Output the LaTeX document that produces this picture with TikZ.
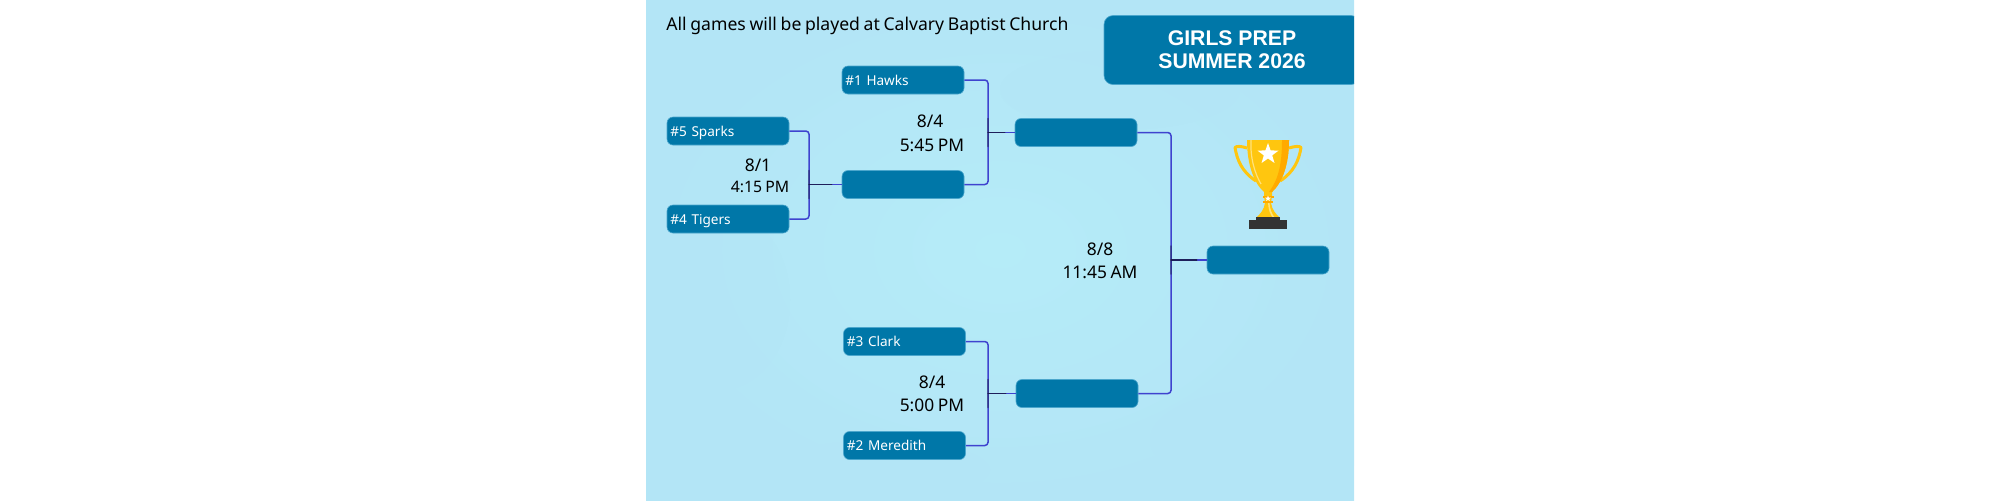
\documentclass[tikz,border=0pt]{standalone}
\usepackage{fontspec}
\setmainfont{Noto Sans}[WordSpace=0.8]
\newfontfamily\headfont{Liberation Sans}[BoldFont={Liberation Sans Bold}]
\usetikzlibrary{calc}
\definecolor{teamblue}{HTML}{0077A8}
\definecolor{edgeblue}{HTML}{4BA6CC}
\definecolor{wireblue}{HTML}{3F43CF}
\definecolor{wiredark}{HTML}{16163F}
\definecolor{panelmid}{HTML}{B5ECF8}
\definecolor{paneledge}{HTML}{B3E5F6}
\definecolor{gold}{HTML}{FFC60F}
\definecolor{goldlight}{HTML}{FFE27A}
\definecolor{golddark}{HTML}{FFAA00}
\definecolor{basegrey}{HTML}{333333}
\tikzset{
  x=0.5pt, y=-0.5pt,
  slot/.style={draw=edgeblue, line width=0.3pt, fill=teamblue, rounded corners=3pt,
    minimum width=61pt, minimum height=14pt, text width=57.6pt, inner xsep=1.7pt,
    inner ysep=0pt, text height=5.4pt, text depth=0pt, align=left, text=white,
    font=\fontsize{6.8}{8}\selectfont},
  wire/.style={draw=wireblue, line width=0.75pt, rounded corners=1.6pt},
  wirecore/.style={draw=wiredark, line width=0.75pt, line cap=round},
  when/.style={text=black, font=\fontsize{8.7}{10}\selectfont, inner sep=0pt},
  whensmall/.style={text=black, font=\fontsize{7.9}{10}\selectfont, inner sep=0pt},
}
\begin{document}
\begin{tikzpicture}
\useasboundingbox (0,0) rectangle (2000,500);
\begin{scope}
  \clip (646,0) rectangle (1354,500);
  \shade[inner color=panelmid, outer color=paneledge] (646,0) rectangle (1354,500);
  % faint mottling of the backdrop
  \fill[paneledge, opacity=.35] (1120,90) ellipse (120 and 40);
  \fill[paneledge, opacity=.30] (1260,440) ellipse (110 and 50);
  \fill[paneledge, opacity=.30] (720,300) ellipse (70 and 90);
  \fill[paneledge, opacity=.30] (880,470) ellipse (110 and 30);
  % heading tab, running off the right edge
  \node[draw=edgeblue, line width=0.3pt, fill=teamblue, rounded corners=4.5pt,
        minimum width=128pt, minimum height=34.5pt, inner sep=0pt, align=center,
        text=white, font=\headfont\bfseries\fontsize{10.6}{11.6}\selectfont]
        (title) at (1232,50) {GIRLS PREP\\SUMMER 2026};
\end{scope}

\node[anchor=west, inner sep=0pt, text=black, font=\fontsize{8.8}{10}\selectfont]
     (venue) at (666,26) {All games will be played at Calvary Baptist Church};

% bracket slots
\node[slot] (sparks) at (728,131) {\#5 Sparks};
\node[slot] (tigers) at (728,219) {\#4 Tigers};
\node[slot] (hawks)  at (903,80)  {\#1 Hawks};
\node[slot] (qwin)   at (903,184.5) {};
\node[slot] (semia)  at (1076,132.5) {};
\node[slot] (clark)  at (904.5,341.5) {\#3 Clark};
\node[slot] (mered)  at (904.5,445.5) {\#2 Meredith};
\node[slot] (semib)  at (1077,393.5) {};
\node[slot] (final)  at (1268,260) {};

% junctions of the bracket lines
\coordinate (jq) at (809,184.5);
\coordinate (ja) at (988,132.5);
\coordinate (jb) at (988,393.5);
\coordinate (jf) at (1171,260);

\foreach \up/\down/\joint/\next in {sparks/tigers/jq/qwin, hawks/qwin/ja/semia,
                                    clark/mered/jb/semib, semia/semib/jf/final}{
  \draw[wire] (\up.east) -| (\joint) |- (\down.east);
  \draw[wire] (\joint) -- (\next.west);
  \draw[wirecore, opacity=.8, shorten >=5pt, shorten <=0pt] (\joint) -- (\next.west);
  \draw[wirecore, opacity=.4] ($(\joint)+(0,-14)$) -- ($(\joint)+(0,14)$);
}

% game times
\node[when] (d1) at (758,165) {8/1};
\node[whensmall] (t1) at (760,187) {4:15 PM};
\node[when] (d2) at (930,121) {8/4};
\node[when] (t2) at (932,145) {5:45 PM};
\node[when] (d3) at (1100,249) {8/8};
\node[when] (t3) at (1100,272) {11:45 AM};
\node[when] (d4) at (932,382) {8/4};
\node[when] (t4) at (932,405) {5:00 PM};

% trophy
\begin{scope}[shift={(1268,0)}]
  % handles
  \foreach \s in {-1,1}{
    \draw[gold, line width=1.5pt, line join=round, xscale=\s]
      (21,148) .. controls (27,146) and (32,146) .. (33,147.5)
      .. controls (31,160) and (26,172) .. (12,181);
  }
  % stem and foot
  \fill[gold] (-4,190) -- (4,190) -- (4,196) -- (3,203)
     .. controls (4,210) and (8,214) .. (12,218) -- (-12,218)
     .. controls (-8,214) and (-4,210) .. (-3,203) -- (-4,196) -- cycle;
  \fill[goldlight] (1.5,203) .. controls (2,210) and (4,214) .. (7,218) -- (5,218)
     .. controls (2,214) and (0.5,210) .. (0,203) -- cycle;
  \fill[golddark] (-5.5,195.5) rectangle (5.5,198);
  \fill[golddark] (-5,201) rectangle (5,202.5);
  % bowl
  \fill[gold] (-21,140) -- (21,140) .. controls (21,165) and (14,183) .. (4,192)
     -- (-4,192) .. controls (-14,183) and (-21,165) .. (-21,140) -- cycle;
  \fill[golddark] (14,140) -- (21,140) .. controls (21,165) and (14,183) .. (4,192)
     -- (1,192) .. controls (10,180) and (14,165) .. (14,140) -- cycle;
  \draw[goldlight, line width=0.6pt]
     (-17,140) .. controls (-18,158) and (-13,174) .. (-7,184);
  % stars
  \fill[white] (0,143)
     -- (2.6,150.4) -- (10.5,150.6) -- (4.2,155.4) -- (6.5,163)
     -- (0,158.5) -- (-6.5,163) -- (-4.2,155.4) -- (-10.5,150.6) -- (-2.6,150.4) -- cycle;
  \fill[white] (0,195.5) -- (0.8,197.6) -- (3,197.7) -- (1.2,199) -- (1.9,201)
     -- (0,199.8) -- (-1.9,201) -- (-1.2,199) -- (-3,197.7) -- (-0.8,197.6) -- cycle;
  % plinth
  \fill[basegrey] (-12,217) rectangle (12,220.5);
  \fill[basegrey] (-19,220) rectangle (19,229);
\end{scope}
\end{tikzpicture}
\end{document}
